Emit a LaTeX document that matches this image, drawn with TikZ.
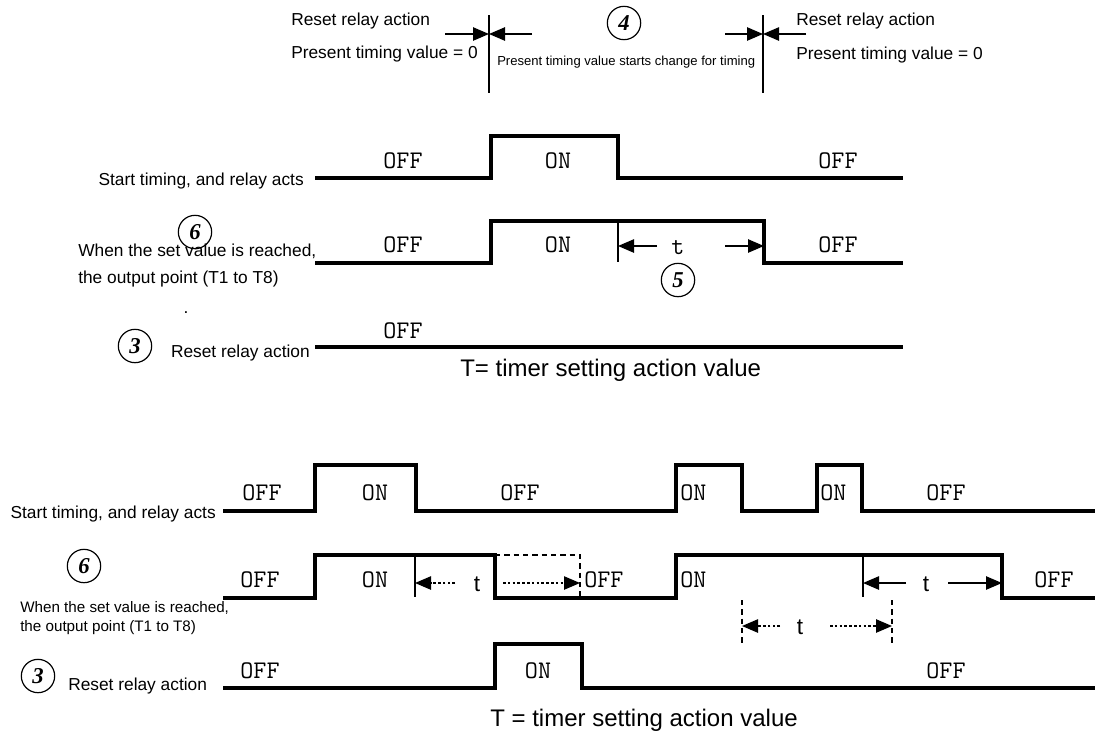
\documentclass[tikz,border=0pt]{standalone}
\usepackage{fontspec}
\setmainfont{Liberation Sans}
\newfontfamily\numfont{Liberation Serif}
\usetikzlibrary{arrows.meta,positioning,calc}
\tikzset{
  wave/.style={line width=2.4pt,line join=miter},
  marker/.style={line width=1.2pt},
  guide/.style={line width=0.8pt,dash pattern=on 4pt off 3pt},
  state/.style={font=\ttfamily\fontsize{19}{20}\selectfont,inner sep=0pt},
  sigtext/.style={font=\fontsize{13}{15}\selectfont,inner sep=0pt},
  smalltext/.style={font=\fontsize{11.4}{13}\selectfont,inner sep=0pt},
  notetext/.style={font=\fontsize{9.8}{11}\selectfont,inner sep=0pt},
  captext/.style={font=\fontsize{18}{20}\selectfont,inner sep=0pt},
  tmark/.style={font=\fontsize{17}{18}\selectfont,inner sep=0pt},
  stepnum/.style={circle,draw,line width=0.9pt,minimum size=25pt,inner sep=0pt,
    font=\numfont\bfseries\itshape\fontsize{17}{17}\selectfont},
  dimarrow/.style={-{Triangle[length=12pt,width=10pt]},line width=1.1pt},
  dotarrow/.style={dimarrow,dash pattern=on 2pt off 1.6pt},
}
\begin{document}
\begin{tikzpicture}[x=0.75pt,y=-0.75pt,>=Latex]
  \fill[white] (0,0) rectangle (1106,740);
  \useasboundingbox (0,0) rectangle (1106,740);

  % header: reset markers
  \node[sigtext,anchor=base west] (rstA) at (291,25) {Reset relay action};
  \node[sigtext,anchor=base west] (zeroA) at (291,58) {Present timing value = 0};
  \draw[marker] (489,15) -- (489,93);
  \coordinate (mkA) at (489,34);
  \coordinate (mkAl) at (445,34);
  \coordinate (mkAr) at (532,34);
  \draw[dimarrow] (mkAl) -- (mkA);
  \draw[dimarrow] (mkAr) -- (mkA);
  \node[stepnum] (n4) at (624,23) {4};
  \node[notetext,anchor=base west] (chg) at (497,65) {Present timing value starts change for timing};
  \draw[marker] (763,15) -- (763,93);
  \coordinate (mkB) at (763,34);
  \coordinate (mkBl) at (725,34);
  \coordinate (mkBr) at (806,34);
  \draw[dimarrow] (mkBl) -- (mkB);
  \draw[dimarrow] (mkBr) -- (mkB);
  \node[sigtext,anchor=base west] (rstB) at (796,25) {Reset relay action};
  \node[sigtext,anchor=base west] (zeroB) at (796,59) {Present timing value = 0};

  % first chart
  \draw[wave] (315,178) -- (491,178) -- (491,136) -- (618,136) -- (618,178) -- (903,178);
  \draw[wave] (315,263) -- (491,263) -- (491,221) -- (764,221) -- (764,263) -- (903,263);
  \draw[wave] (315,347) -- (903,347);
  \draw[marker] (618,221) -- (618,262);
  \coordinate (tAl) at (618,246);
  \coordinate (tAr) at (764,246);
  \coordinate (tAa) at (657,246);
  \coordinate (tAb) at (725,246);
  \draw[dimarrow] (tAa) -- (tAl);
  \draw[dimarrow] (tAb) -- (tAr);
  \node[state,anchor=base] (tA) at (678,254) {t};
  \node[stepnum] (n5) at (678,280) {5};
  \node[state,anchor=base] (offA1) at (403,168) {OFF};
  \node[state,anchor=base] (onA1) at (558,168) {ON};
  \node[state,anchor=base] (offA2) at (838,168) {OFF};
  \node[state,anchor=base] (offA3) at (403,252) {OFF};
  \node[state,anchor=base] (onA2) at (558,252) {ON};
  \node[state,anchor=base] (offA4) at (838,252) {OFF};
  \node[state,anchor=base] (offA5) at (403,338) {OFF};
  \node[sigtext,anchor=base east] (startA) at (304,185) {Start timing, and relay acts};
  \node[stepnum] (n6a) at (195,232) {6};
  \node[sigtext,anchor=base west] (setA) at (78,256) {When the set value is reached,};
  \node[sigtext,anchor=base west] (outA) at (78,283) {the output point (T1 to T8)};
  \node[sigtext,anchor=base] (dotA) at (186,313) {.};
  \node[stepnum] (n3a) at (135,346) {3};
  \node[sigtext,anchor=base east] (resetA) at (310,357) {Reset relay action};
  \node[captext,anchor=base west] (capA) at (460,376) {T= timer setting action value};

  % second chart
  \draw[wave] (223,511) -- (315,511) -- (315,465) -- (416,465) -- (416,511) -- (676,511)
    -- (676,465) -- (742,465) -- (742,511) -- (817,511) -- (817,465) -- (862,465)
    -- (862,511) -- (1095,511);
  \draw[wave] (223,598) -- (315,598) -- (315,555) -- (495,555) -- (495,598) -- (676,598)
    -- (676,555) -- (1002,555) -- (1002,598) -- (1095,598);
  \draw[wave] (223,688) -- (495,688) -- (495,644) -- (582,644) -- (582,688) -- (1095,688);
  \draw[marker] (415,555) -- (415,597);
  \draw[marker] (863,555) -- (863,597);
  \draw[guide] (495,555) -- (580,555) -- (580,598);
  \coordinate (tBl) at (415,583);
  \coordinate (tBr) at (580,583);
  \coordinate (tBa) at (455,583);
  \coordinate (tBb) at (503,583);
  \draw[dotarrow] (tBa) -- (tBl);
  \draw[dotarrow] (tBb) -- (tBr);
  \node[tmark,anchor=base] (tB) at (477,591) {t};
  \coordinate (tCl) at (863,583);
  \coordinate (tCr) at (1002,583);
  \coordinate (tCa) at (906,583);
  \coordinate (tCb) at (948,583);
  \draw[dimarrow] (tCa) -- (tCl);
  \draw[dimarrow] (tCb) -- (tCr);
  \node[tmark,anchor=base] (tC) at (926,591) {t};
  \draw[guide] (742,600) -- (742,645);
  \draw[guide] (892,600) -- (892,645);
  \coordinate (tDl) at (742,626);
  \coordinate (tDr) at (892,626);
  \coordinate (tDa) at (780,626);
  \coordinate (tDb) at (830,626);
  \draw[dotarrow] (tDa) -- (tDl);
  \draw[dotarrow] (tDb) -- (tDr);
  \node[tmark,anchor=base] (tD) at (800,634) {t};
  \node[state,anchor=base] (offB1) at (262,500) {OFF};
  \node[state,anchor=base] (onB1) at (375,500) {ON};
  \node[state,anchor=base] (offB2) at (520,500) {OFF};
  \node[state,anchor=base west] (onB2) at (680,500) {ON};
  \node[state,anchor=base west] (onB3) at (820,500) {ON};
  \node[state,anchor=base] (offB3) at (946,500) {OFF};
  \node[state,anchor=base] (offB4) at (260,587) {OFF};
  \node[state,anchor=base] (onB4) at (375,587) {ON};
  \node[state,anchor=base west] (offB5) at (584,587) {OFF};
  \node[state,anchor=base west] (onB5) at (680,587) {ON};
  \node[state,anchor=base] (offB6) at (1054,587) {OFF};
  \node[state,anchor=base] (offB7) at (260,678) {OFF};
  \node[state,anchor=base] (onB6) at (538,678) {ON};
  \node[state,anchor=base] (offB8) at (946,678) {OFF};
  \node[sigtext,anchor=base east] (startB) at (216,518) {Start timing, and relay acts};
  \node[stepnum] (n6b) at (84,566) {6};
  \node[smalltext,anchor=base west] (setB) at (20,612) {When the set value is reached,};
  \node[smalltext,anchor=base west] (outB) at (20,631) {the output point (T1 to T8)};
  \node[stepnum] (n3b) at (38,676) {3};
  \node[sigtext,anchor=base west] (resetB) at (68,690) {Reset relay action};
  \node[captext,anchor=base west] (capB) at (490,726) {T = timer setting action value};
\end{tikzpicture}
\end{document}
